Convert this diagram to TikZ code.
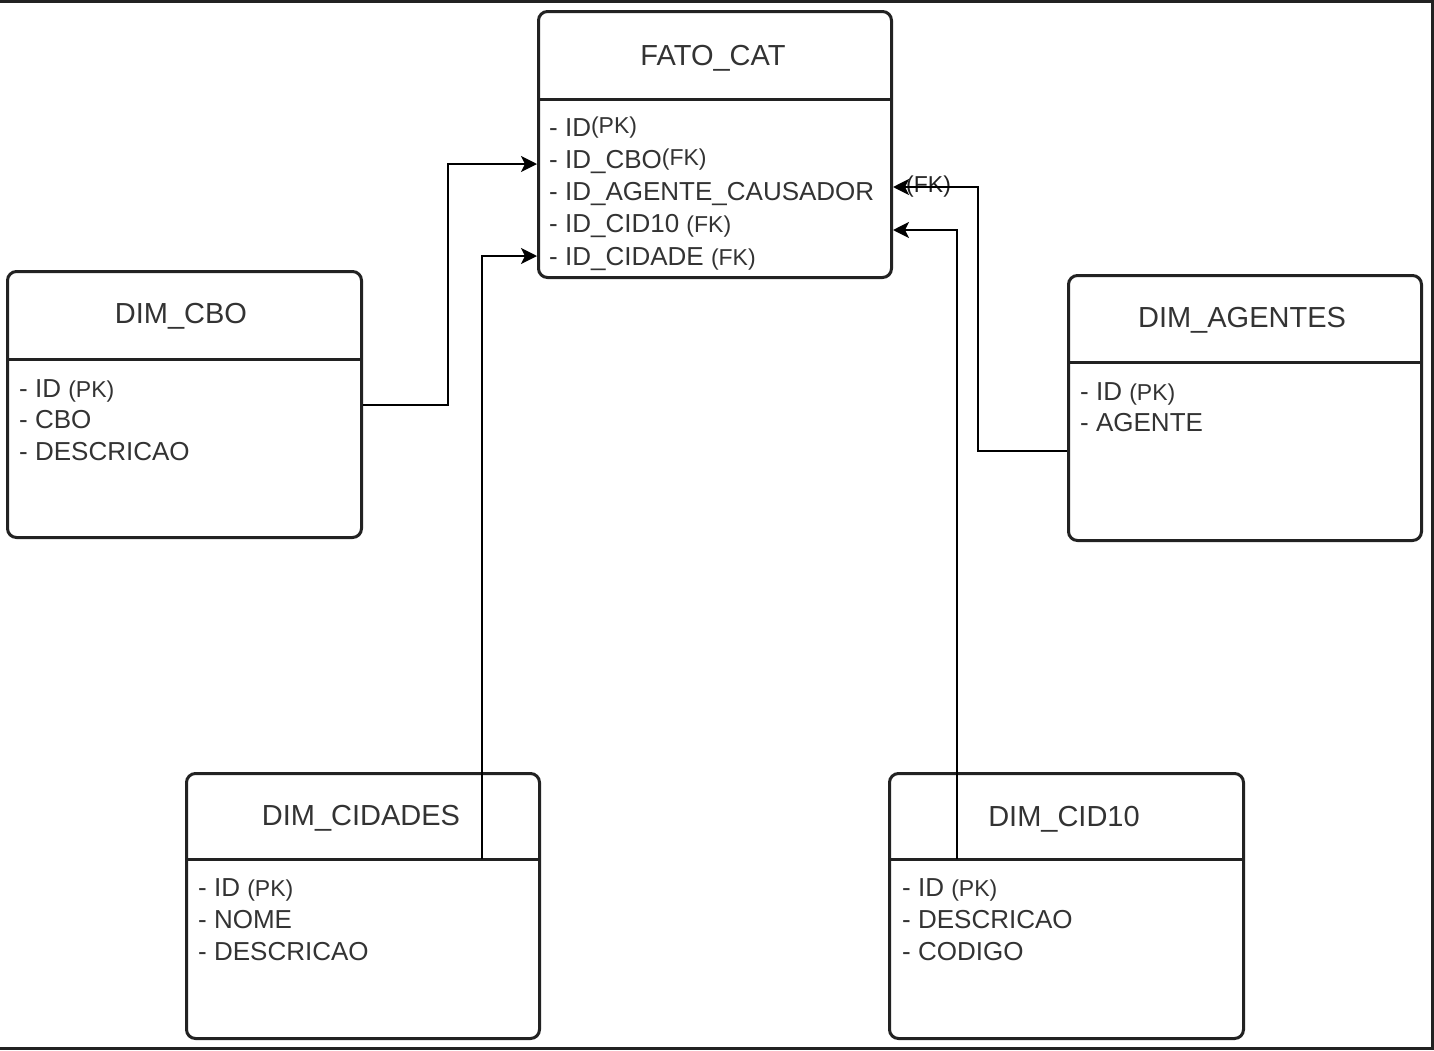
\documentclass[tikz,border=0pt]{standalone}
\usepackage{fontspec}
\setmainfont{Liberation Sans}
\usetikzlibrary{arrows.meta}
\definecolor{txt}{HTML}{333333}
\definecolor{ln}{HTML}{222222}
\newcommand{\smallkey}[1]{{\fontsize{23}{26}\selectfont #1}}
\newcommand{\upkey}[1]{\raisebox{3pt}{\fontsize{23}{26}\selectfont #1}}
\begin{document}
\begin{tikzpicture}[x=1pt,y=-1pt,
  tbl/.style={draw=ln, line width=3pt, rounded corners=9pt, rectangle, inner sep=0pt, anchor=north west},
  divider/.style={draw=ln, line width=3pt},
  ttl/.style={font=\fontsize{29}{34}\selectfont, text=txt, inner sep=0pt, anchor=base},
  attr/.style={font=\fontsize{26}{30}\selectfont, text=txt, inner sep=0pt, anchor=base west},
  fklabel/.style={font=\fontsize{23}{26}\selectfont, text=ln, inner sep=0pt, anchor=base west},
  conn/.style={draw=black, line width=2pt},
  arr/.style={conn, -{Stealth[length=16pt,width=16pt,inset=4pt]}},
  frame/.style={fill=ln, draw=none},
]
\useasboundingbox (0,0) rectangle (1434,1050);
% outer frame
\fill[frame] (0,0) rectangle (1434,3);
\fill[frame] (1431,0) rectangle (1434,1050);
\fill[frame] (0,1047) rectangle (1434,1050);

% FATO_CAT
\node[tbl, minimum width=353pt, minimum height=266pt] (fato) at (537,10) {};
\draw[divider] (fato.west |- 0,99) -- (fato.east |- 0,99);
\node[ttl] (fatot) at (713,65) {FATO\_CAT};
\node[attr] (fa1) at (549,136) {- ID\upkey{(PK)}};
\node[attr] (fa2) at (549,168) {- ID\_CBO\upkey{(FK)}};
\node[attr] (fa3) at (549,200) {- ID\_AGENTE\_CAUSADOR};
\node[attr] (fa4) at (549,232) {- ID\_CID10 \smallkey{(FK)}};
\node[attr] (fa5) at (549,265) {- ID\_CIDADE \smallkey{(FK)}};

% DIM_CBO
\node[tbl, minimum width=354pt, minimum height=266pt] (cbo) at (6,270) {};
\draw[divider] (cbo.west |- 0,359) -- (cbo.east |- 0,359);
\node[ttl] (cbot) at (181,323) {DIM\_CBO};
\node[attr] (cb1) at (19,397) {- ID \smallkey{(PK)}};
\node[attr] (cb2) at (19,428) {- CBO};
\node[attr] (cb3) at (19,460) {- DESCRICAO};

% DIM_AGENTES
\node[tbl, minimum width=353pt, minimum height=265pt] (agentes) at (1067,274) {};
\draw[divider] (agentes.west |- 0,362) -- (agentes.east |- 0,362);
\node[ttl] (agt) at (1242,327) {DIM\_AGENTES};
\node[attr] (ag1) at (1080,400) {- ID \smallkey{(PK)}};
\node[attr] (ag2) at (1080,431) {- AGENTE};

% DIM_CIDADES
\node[tbl, minimum width=353pt, minimum height=265pt] (cidades) at (185,772) {};
\draw[divider] (cidades.west |- 0,859) -- (cidades.east |- 0,859);
\node[ttl] (cit) at (361,825) {DIM\_CIDADES};
\node[attr] (ci1) at (198,896) {- ID \smallkey{(PK)}};
\node[attr] (ci2) at (198,928) {- NOME};
\node[attr] (ci3) at (198,960) {- DESCRICAO};

% DIM_CID10
\node[tbl, minimum width=354pt, minimum height=265pt] (cid10) at (888,772) {};
\draw[divider] (cid10.west |- 0,859) -- (cid10.east |- 0,859);
\node[ttl] (c10t) at (1064,826) {DIM\_CID10};
\node[attr] (c101) at (902,896) {- ID \smallkey{(PK)}};
\node[attr] (c102) at (902,928) {- DESCRICAO};
\node[attr] (c103) at (902,960) {- CODIGO};

% label beside FATO_CAT
\node[fklabel] (fk) at (906,192) {(FK)};

% connectors
\coordinate (cidsplit) at (482,859);
\coordinate (cid10split) at (957,859);
\draw[arr] (cbo.east) -- ++(85,0) |- (fato.west |- 0,164);
\draw[arr] (cidsplit) |- (fato.west |- 0,256);
\draw[arr] (agentes.west |- 0,451) -- ++(-89,0) |- (fato.east |- 0,187);
\draw[arr] (cid10split) |- (fato.east |- 0,230);
\end{tikzpicture}
\end{document}
